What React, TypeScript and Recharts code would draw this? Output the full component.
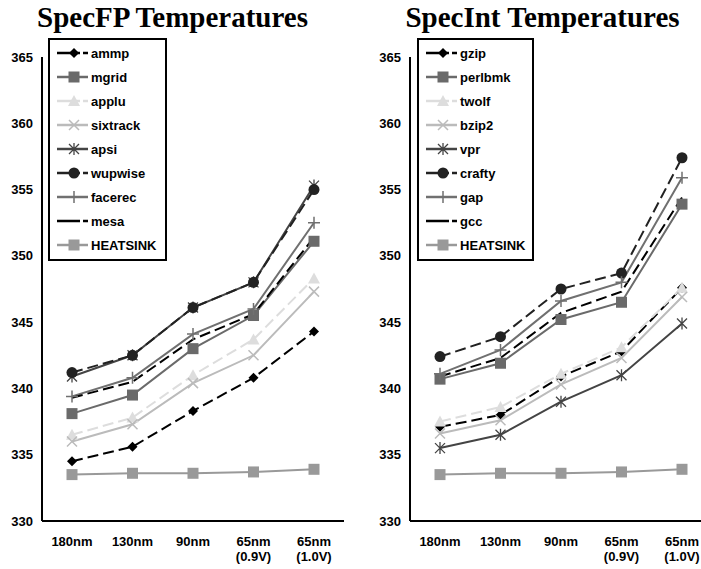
import { LineChart, Line, XAxis, YAxis, Legend } from 'recharts';

const categories = ['180nm', '130nm', '90nm', '65nm (0.9V)', '65nm (1.0V)'];
const yTicks = [330, 335, 340, 345, 350, 355, 360, 365];

// SpecFP panel
const fpNames = ['ammp', 'mgrid', 'applu', 'sixtrack', 'apsi', 'wupwise', 'facerec', 'mesa', 'HEATSINK'];
const ammp = [334.5, 335.6, 338.3, 340.8, 344.3];
const mgrid = [338.1, 339.5, 343.0, 345.5, 351.1];
const applu = [336.5, 337.8, 341.0, 343.7, 348.3];
const sixtrack = [336.0, 337.3, 340.4, 342.5, 347.3];
const apsi = [340.9, 342.5, 346.1, 348.0, 355.3];
const wupwise = [341.2, 342.5, 346.1, 348.0, 355.0];
const facerec = [339.4, 340.8, 344.1, 346.0, 352.5];
const mesa = [339.3, 340.5, 343.7, 345.6, 351.4];
const fpHeatsink = [333.5, 333.6, 333.6, 333.7, 333.9];

// SpecInt panel
const intNames = ['gzip', 'perlbmk', 'twolf', 'bzip2', 'vpr', 'crafty', 'gap', 'gcc', 'HEATSINK'];
const gzip = [337.1, 338.0, 340.9, 342.8, 347.6];
const perlbmk = [340.7, 341.9, 345.2, 346.5, 353.9];
const twolf = [337.5, 338.6, 341.1, 343.1, 347.6];
const bzip2 = [336.6, 337.6, 340.3, 342.3, 346.9];
const vpr = [335.5, 336.5, 339.0, 341.0, 344.9];
const crafty = [342.4, 343.9, 347.5, 348.7, 357.4];
const gap = [341.1, 342.9, 346.6, 348.0, 355.9];
const gcc = [340.9, 342.3, 345.7, 347.3, 354.4];
const intHeatsink = [333.5, 333.6, 333.6, 333.7, 333.9];

// one style per legend slot, shared by both panels
const slotStyles = [
  { color: '#000000', dash: true, shape: 'diamond' },
  { color: '#6a6a6a', dash: false, shape: 'square' },
  { color: '#dddddd', dash: true, shape: 'triangle' },
  { color: '#bbbbbb', dash: false, shape: 'cross' },
  { color: '#444444', dash: false, shape: 'star' },
  { color: '#222222', dash: true, shape: 'circle' },
  { color: '#707070', dash: false, shape: 'plus' },
  { color: '#000000', dash: true, shape: 'none' },
  { color: '#999999', dash: false, shape: 'square' },
];

const FONT = '"Liberation Sans", Arial, Helvetica, sans-serif';

function Marker({ shape, color, cx, cy }: { shape: string; color: string; cx: number; cy: number }) {
  switch (shape) {
    case 'diamond':
      return <polygon points={`${cx},${cy - 5} ${cx + 5},${cy} ${cx},${cy + 5} ${cx - 5},${cy}`} fill={color} />;
    case 'square':
      return <rect x={cx - 5.5} y={cy - 5.5} width={11} height={11} fill={color} />;
    case 'triangle':
      return <polygon points={`${cx},${cy - 6} ${cx + 6},${cy + 5} ${cx - 6},${cy + 5}`} fill={color} />;
    case 'cross':
      return <path d={`M${cx - 5},${cy - 5}L${cx + 5},${cy + 5}M${cx - 5},${cy + 5}L${cx + 5},${cy - 5}`} stroke={color} strokeWidth={1.5} />;
    case 'star':
      return <path d={`M${cx - 5},${cy - 5}L${cx + 5},${cy + 5}M${cx - 5},${cy + 5}L${cx + 5},${cy - 5}M${cx},${cy - 6}V${cy + 6}`} stroke={color} strokeWidth={1.3} />;
    case 'circle':
      return <circle cx={cx} cy={cy} r={5.5} fill={color} />;
    case 'plus':
      return <path d={`M${cx - 6},${cy}H${cx + 6}M${cx},${cy - 6}V${cy + 6}`} stroke={color} strokeWidth={1.5} />;
    default:
      return <g />;
  }
}

function CategoryTick({ x, y, payload }: any) {
  const [first, second] = String(payload.value).split(' ');
  return (
    <g>
      <text x={x} y={y + 25} textAnchor="middle" fontFamily={FONT} fontWeight="bold" fontSize={13} fill="#000">
        {first}
      </text>
      {second && (
        <text x={x} y={y + 40} textAnchor="middle" fontFamily={FONT} fontWeight="bold" fontSize={13} fill="#000">
          {second}
        </text>
      )}
    </g>
  );
}

function LegendBox({ names }: { names: string[] }) {
  return (
    <div style={{ border: '2px solid #000', background: '#fff', padding: '1px 0 2px 7px', fontFamily: FONT, fontWeight: 'bold', fontSize: 13 }}>
      {names.map((name, i) => {
        const s = slotStyles[i];
        return (
          <div key={name} style={{ height: 24, display: 'flex', alignItems: 'center' }}>
            <svg width={34} height={14} style={{ display: 'block' }}>
              <line x1={0} y1={7} x2={31} y2={7} stroke={s.color} strokeWidth={2.5} strokeDasharray={s.dash ? '23 3' : undefined} />
              <Marker shape={s.shape} color={s.color} cx={17} cy={7} />
            </svg>
            <span style={{ color: '#000' }}>{name}</span>
          </div>
        );
      })}
    </div>
  );
}

interface PanelProps {
  names: string[];
  values: number[][];
  left: number;
  width: number;
  legendLeft: number;
  legendWidth: number;
}

function Panel({ names, values, left, width, legendLeft, legendWidth }: PanelProps) {
  const data = categories.map((cat, i) => {
    const row: Record<string, string | number> = { cat };
    names.forEach((n, k) => {
      row[n] = values[k][i];
    });
    return row;
  });

  return (
    <div style={{ position: 'absolute', left, top: 0 }}>
      <LineChart width={width} height={569} data={data} margin={{ top: 57, right: width - 344, bottom: 0, left: 0 }}>
        <XAxis
          dataKey="cat"
          height={48}
          interval={0}
          padding={{ left: 30, right: 30 }}
          tickLine={false}
          tickSize={0}
          tickMargin={0}
          axisLine={{ stroke: '#000', strokeWidth: 2 }}
          tick={<CategoryTick />}
        />
        <YAxis
          width={42}
          type="number"
          domain={[330, 365]}
          ticks={yTicks}
          interval={0}
          tickLine={false}
          tickSize={6}
          tickMargin={3}
          axisLine={{ stroke: '#000', strokeWidth: 2 }}
          tick={{ fill: '#000', fontSize: 13, fontWeight: 'bold', fontFamily: FONT }}
        />
        <Legend
          layout="vertical"
          align="center"
          verticalAlign="middle"
          wrapperStyle={{ left: legendLeft, top: 38, width: legendWidth }}
          content={() => <LegendBox names={names} />}
        />
        {names.map((name, k) => {
          const s = slotStyles[k];
          return (
            <Line
              key={name}
              dataKey={name}
              type="linear"
              stroke={s.color}
              strokeWidth={2}
              strokeDasharray={s.dash ? '11 5' : undefined}
              isAnimationActive={false}
              dot={(p: any) => <Marker key={`${name}-${p.index}`} shape={s.shape} color={s.color} cx={p.cx} cy={p.cy} />}
              activeDot={false}
            />
          );
        })}
      </LineChart>
    </div>
  );
}

function Title({ text, center }: { text: string; center: number }) {
  return (
    <div
      style={{
        position: 'absolute',
        left: center - 175,
        top: 3,
        width: 350,
        textAlign: 'center',
        fontFamily: '"Liberation Serif", "Times New Roman", serif',
        fontWeight: 'bold',
        fontSize: 29,
        lineHeight: '29px',
        color: '#000',
      }}
    >
      {text}
    </div>
  );
}

export default function App() {
  return (
    <div style={{ position: 'absolute', left: 0, top: 0, width: 701, height: 569, overflow: 'hidden', background: '#fff' }}>
      <Title text="SpecFP Temperatures" center={172.5} />
      <Title text="SpecInt Temperatures" center={542.5} />
      <Panel
        names={fpNames}
        values={[ammp, mgrid, applu, sixtrack, apsi, wupwise, facerec, mesa, fpHeatsink]}
        left={0}
        width={350}
        legendLeft={48}
        legendWidth={119}
      />
      <Panel
        names={intNames}
        values={[gzip, perlbmk, twolf, bzip2, vpr, crafty, gap, gcc, intHeatsink]}
        left={368}
        width={344}
        legendLeft={49}
        legendWidth={117}
      />
    </div>
  );
}
